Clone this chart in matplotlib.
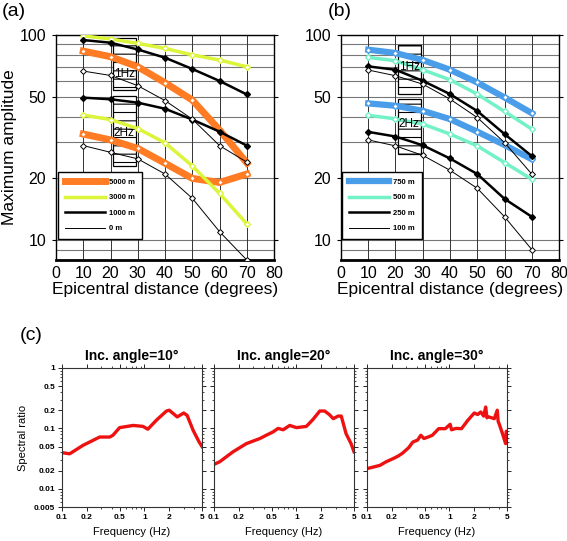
import matplotlib
matplotlib.use("Agg")
import matplotlib.pyplot as plt
from matplotlib.patches import Rectangle
import numpy as np

plt.rcParams['font.family'] = ['Liberation Sans', 'DejaVu Sans']
plt.rcParams['hatch.linewidth'] = 0.8

# ---------------- data ----------------
dist = [10, 20, 30, 40, 50, 60, 70]

# panel (a)
a_5000_1hz = [83.5, 78.4, 70, 58.5, 48.2, 34.4, 23.8]
a_5000_2hz = [32.9, 30.8, 28.0, 23.7, 20.0, 19.1, 21.0]
a_3000_1hz = [99, 95.6, 91, 86, 80, 75.5, 70]
a_3000_2hz = [40.7, 38.7, 35, 29.8, 23, 16.9, 12]
a_1000_1hz = [94.5, 91.7, 85, 77.5, 68.3, 59.7, 51.3]
a_1000_2hz = [49.5, 48.6, 46.8, 43.7, 38.7, 33.8, 28.9]
a_0_1hz = [66.7, 63.5, 56.6, 47.9, 38.9, 28.9, 24.0]
a_0_2hz = [28.9, 26.8, 24.9, 21.0, 16.0, 11.0, 8.0]

# panel (b)
b_750_1hz = [84.8, 81.7, 75.5, 67.7, 58.7, 49.6, 41.6]
b_750_2hz = [46.4, 45.2, 42.7, 38.9, 33.8, 29.1, 24.8]
b_500_1hz = [77.8, 74.9, 67.7, 60.5, 51.5, 42.4, 34.8]
b_500_2hz = [40.6, 39.0, 36.8, 32.9, 28.8, 23.9, 19.8]
b_250_1hz = [70.3, 67.7, 59.8, 51.5, 42.6, 32.9, 25.7]
b_250_2hz = [33.7, 32.0, 29.0, 25.0, 21.0, 15.9, 13.0]
b_100_1hz = [67.5, 63.3, 57.6, 48.7, 39.6, 29.9, 21.0]
b_100_2hz = [30.8, 28.8, 25.9, 21.9, 17.9, 13.0, 9.0]

legend_a = ['5000 m', '3000 m', '1000 m', '0 m']
legend_b = ['750 m', '500 m', '250 m', '100 m']

# panel (c)
titles_c = ['Inc. angle=10°', 'Inc. angle=20°', 'Inc. angle=30°']
f10 = [0.1, 0.124, 0.18, 0.287, 0.38, 0.415, 0.5, 0.73, 0.96, 1.1, 1.4, 1.85, 2.0, 2.5, 3.0, 3.3, 3.9, 4.6, 5.0]
r10 = [0.0397, 0.038, 0.0525, 0.072, 0.072, 0.077, 0.103, 0.112, 0.108, 0.097, 0.137, 0.194, 0.2, 0.155, 0.18, 0.164, 0.093, 0.06, 0.05]
f20 = [0.1, 0.117, 0.17, 0.247, 0.36, 0.43, 0.52, 0.6, 0.69, 0.83, 1.0, 1.32, 1.59, 1.92, 2.2, 2.5, 2.8, 3.2, 3.5, 4.0, 4.6, 5.0]
r20 = [0.0254, 0.028, 0.041, 0.056, 0.068, 0.077, 0.0875, 0.1, 0.095, 0.112, 0.103, 0.108, 0.141, 0.194, 0.194, 0.17, 0.145, 0.16, 0.16, 0.082, 0.056, 0.041]
f30 = [0.1, 0.12, 0.144, 0.17, 0.207, 0.24, 0.27, 0.32, 0.36, 0.41, 0.45, 0.49, 0.55, 0.62, 0.74, 0.89, 1.02, 1.06, 1.2, 1.4, 1.67, 2.0, 2.2, 2.4, 2.6, 2.75, 2.85, 3.0, 3.5, 3.8, 3.9, 4.0, 4.4, 4.8, 4.9, 5.0]
r30 = [0.0216, 0.023, 0.0245, 0.028, 0.0316, 0.035, 0.039, 0.048, 0.0596, 0.064, 0.077, 0.068, 0.072, 0.077, 0.099, 0.099, 0.117, 0.095, 0.1, 0.099, 0.136, 0.18, 0.17, 0.187, 0.16, 0.226, 0.15, 0.155, 0.145, 0.2, 0.13, 0.12, 0.082, 0.056, 0.09, 0.077]
freqs_c = [f10, f20, f30]
ratios_c = [r10, r20, r30]

# ---------------- styles ----------------
c_orange = '#ff7b24'
c_yellow = '#dcf43a'
c_blue = '#4a9de8'
c_aqua = '#72f2c6'

fig = plt.figure(figsize=(5.67, 5.41), dpi=100)

def setup_top(ax):
    ax.set_yscale('log')
    ax.set_xlim(0, 80)
    ax.set_ylim(8, 100)
    ax.set_xticks(range(0, 81, 10))
    ax.set_yticks([10, 20, 50, 100])
    ax.set_yticklabels(['10', '20', '50', '100'])
    ax.yaxis.set_minor_locator(matplotlib.ticker.NullLocator())
    for v in list(range(8, 10)) + list(range(10, 100, 10)) + [100]:
        ax.axhline(v, color='#777777', lw=0.8, zorder=0)
    for v in range(10, 80, 10):
        ax.axvline(v, color='#333333', lw=0.7, zorder=0)
    ax.tick_params(axis='both', labelsize=11.5, length=0, pad=4)
    ax.tick_params(axis='y', which='major', length=3, right=True, direction='out')
    ax.spines['bottom'].set_linewidth(2)
    for s in ['left', 'right', 'top']:
        ax.spines[s].set_linewidth(1)
    ax.set_xlabel('Epicentral distance (degrees)', fontsize=12.5, labelpad=1)

def boxes(ax, b1, b2, t1, t2):
    for (lo, hi), ty, lab in [(b1, t1, '1Hz'), (b2, t2, '2Hz')]:
        ax.add_patch(Rectangle((20.8, lo), 8.4, hi - lo, facecolor='white',
                               edgecolor='black', hatch='--', lw=0.9, zorder=1))
        ax.text(25, ty, lab, ha='center', va='center', fontsize=8.5, zorder=6)

def make_legend(ax, lines, labels, x0):
    h = [plt.Line2D([], [], color=l.get_color(), lw=l.get_linewidth()) for l in lines]
    lg = ax.legend(h, labels, loc='lower left', bbox_to_anchor=(x0, 0.093), borderaxespad=0,
                   fontsize=5.5, handlelength=5.2, fancybox=False, edgecolor='black', framealpha=1,
                   labelspacing=1.05, borderpad=0.9, handletextpad=0.6)
    lg.get_frame().set_linewidth(1)
    lg.set_zorder(10)
    for t in lg.get_texts():
        t.set_fontweight('bold')

# panel (a)
axa = fig.add_axes([0.0988, 0.5194, 0.3845, 0.4159])
setup_top(axa)
boxes(axa, (54, 97), (23.1, 50.4), 64.5, 33.4)
mk = dict(marker='D', ms=3)
la = []
la += axa.plot(dist, a_5000_1hz, color=c_orange, lw=5, mfc='white', mec=c_orange, zorder=3, **mk)
axa.plot(dist, a_5000_2hz, color=c_orange, lw=5, mfc='white', mec=c_orange, zorder=3, **mk)
la += axa.plot(dist, a_3000_1hz, color=c_yellow, lw=2.5, mfc='white', mec=c_yellow, zorder=3, **mk)
axa.plot(dist, a_3000_2hz, color=c_yellow, lw=2.5, mfc='white', mec=c_yellow, zorder=3, **mk)
la += axa.plot(dist, a_1000_1hz, color='black', lw=1.8, mfc='black', mec='black', zorder=4, **mk)
axa.plot(dist, a_1000_2hz, color='black', lw=1.8, mfc='black', mec='black', zorder=4, **mk)
la += axa.plot(dist, a_0_1hz, color='black', lw=0.7, mfc='white', mec='black', mew=0.7, zorder=4, **mk)
axa.plot(dist, a_0_2hz, color='black', lw=0.7, mfc='white', mec='black', mew=0.7, zorder=4, **mk)
axa.set_ylabel('Maximum amplitude', fontsize=12.5, labelpad=2)
make_legend(axa, la, legend_a, 0.009)

# panel (b)
axb = fig.add_axes([0.6014, 0.5194, 0.3845, 0.4159])
setup_top(axb)
boxes(axb, (51.5, 89.7), (26.2, 48.7), 69.5, 37.0)
lb = []
lb += axb.plot(dist, b_750_1hz, color=c_blue, lw=4.5, mfc='white', mec=c_blue, zorder=3, **mk)
axb.plot(dist, b_750_2hz, color=c_blue, lw=4.5, mfc='white', mec=c_blue, zorder=3, **mk)
lb += axb.plot(dist, b_500_1hz, color=c_aqua, lw=2.5, mfc='white', mec=c_aqua, zorder=3, **mk)
axb.plot(dist, b_500_2hz, color=c_aqua, lw=2.5, mfc='white', mec=c_aqua, zorder=3, **mk)
lb += axb.plot(dist, b_250_1hz, color='black', lw=1.8, mfc='black', mec='black', zorder=4, **mk)
axb.plot(dist, b_250_2hz, color='black', lw=1.8, mfc='black', mec='black', zorder=4, **mk)
lb += axb.plot(dist, b_100_1hz, color='black', lw=0.7, mfc='white', mec='black', mew=0.7, zorder=4, **mk)
axb.plot(dist, b_100_2hz, color='black', lw=0.7, mfc='white', mec='black', mew=0.7, zorder=4, **mk)
make_legend(axb, lb, legend_b, 0.005)

# panel (c)
lefts = [0.1093, 0.3774, 0.6473]
for i in range(3):
    ax = fig.add_axes([lefts[i], 0.0628, 0.247, 0.257])
    ax.plot(freqs_c[i], ratios_c[i], color='#ee1111', lw=2.4)
    ax.set_xscale('log')
    ax.set_yscale('log')
    ax.set_xlim(0.1, 5)
    ax.set_ylim(0.005, 1)
    xt = [0.1, 0.2, 0.5, 1, 2, 5]
    yt = [0.005, 0.01, 0.02, 0.05, 0.1, 0.2, 0.5, 1]
    ax.set_xticks(xt)
    ax.set_xticklabels([f'{v:g}' for v in xt])
    ax.set_yticks(yt)
    if i == 0:
        ax.set_yticklabels([f'{v:g}' for v in yt])
        ax.set_ylabel('Spectral ratio', fontsize=8)
    else:
        ax.set_yticklabels([])
    ax.tick_params(which='both', top=True, right=True, direction='out', labelsize=6, pad=2)
    ax.tick_params(which='major', length=3, width=0.6)
    ax.tick_params(which='minor', length=1.5, width=0.5)
    for lab in ax.get_xticklabels() + ax.get_yticklabels():
        lab.set_fontweight('bold')
    for s in ax.spines.values():
        s.set_linewidth(0.8)
        s.set_color('#333333')
    ax.set_xlabel('Frequency (Hz)', fontsize=8, labelpad=4)
    ax.set_title(titles_c[i], fontsize=10, fontweight='bold', pad=6)

fig.text(0.003, 0.995, '(a)', fontsize=14, va='top', ha='left')
fig.text(0.578, 0.995, '(b)', fontsize=14, va='top', ha='left')
fig.text(0.035, 0.395, '(c)', fontsize=14, va='top', ha='left')

fig.savefig('out.png', dpi=100)
